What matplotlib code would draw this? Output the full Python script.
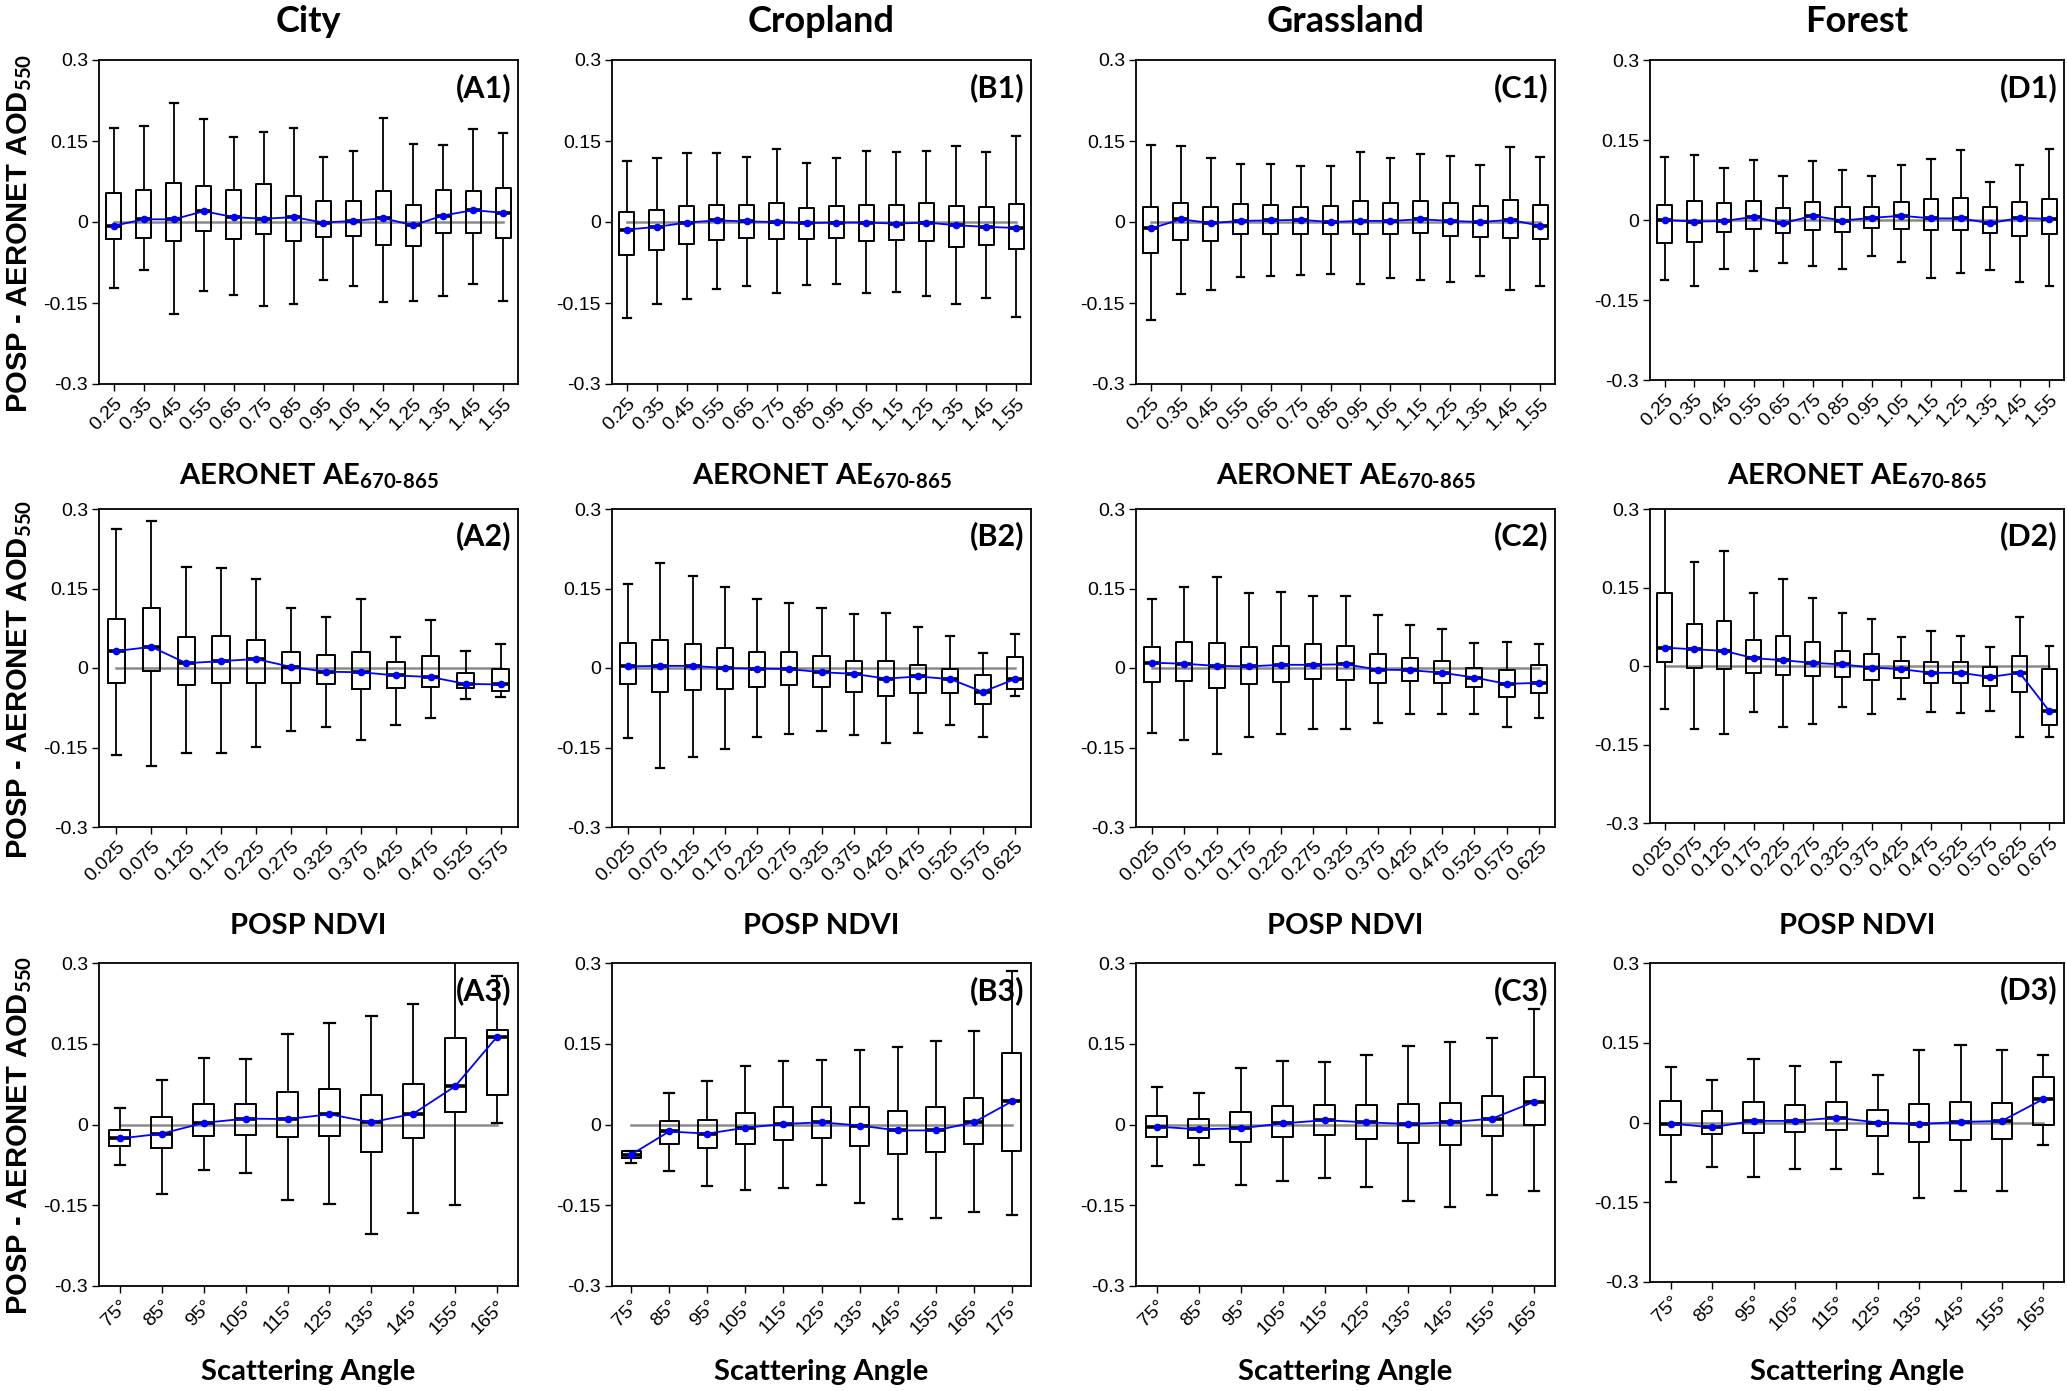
import matplotlib
matplotlib.use('Agg')
import matplotlib.pyplot as plt

plt.rcParams['mathtext.fontset'] = 'custom'
plt.rcParams['mathtext.rm'] = 'Lato:bold'
plt.rcParams['mathtext.bf'] = 'Lato:bold'
plt.rcParams['mathtext.it'] = 'Lato:bold'
plt.rcParams['mathtext.sf'] = 'Lato:bold'
plt.rcParams['font.family'] = ['Liberation Sans', 'DejaVu Sans']

# ---------------- data ----------------
columns = ['City', 'Cropland', 'Grassland', 'Forest']
row_xlabels = ['AERONET AE$_{\\text{670-865}}$', 'POSP NDVI', 'Scattering Angle']

ae_labels = ['0.25', '0.35', '0.45', '0.55', '0.65', '0.75', '0.85', '0.95',
             '1.05', '1.15', '1.25', '1.35', '1.45', '1.55']
ndvi_labels_A = ['0.025', '0.075', '0.125', '0.175', '0.225', '0.275', '0.325',
                 '0.375', '0.425', '0.475', '0.525', '0.575']
ndvi_labels_BC = ndvi_labels_A + ['0.625']
ndvi_labels_D = ndvi_labels_BC + ['0.675']
angle_labels = ['75°', '85°', '95°', '105°', '115°', '125°', '135°', '145°', '155°', '165°']
angle_labels_B = angle_labels + ['175°']

yticks = [-0.3, -0.15, 0, 0.15, 0.3]
ytick_labels = ['-0.3', '-0.15', '0', '0.15', '0.3']

# Row 1: AE bins
A1_hi = [0.175, 0.177, 0.221, 0.190, 0.157, 0.167, 0.174, 0.121, 0.132, 0.193, 0.144, 0.142, 0.172, 0.165]
A1_q3 = [0.053, 0.060, 0.072, 0.067, 0.059, 0.070, 0.049, 0.038, 0.038, 0.057, 0.032, 0.060, 0.057, 0.063]
A1_mid = [-0.007, 0.005, 0.005, 0.020, 0.009, 0.006, 0.009, -0.001, 0.002, 0.007, -0.006, 0.012, 0.022, 0.017]
A1_q1 = [-0.031, -0.030, -0.036, -0.016, -0.031, -0.022, -0.036, -0.027, -0.026, -0.043, -0.044, -0.020, -0.020, -0.030]
A1_lo = [-0.122, -0.088, -0.171, -0.127, -0.135, -0.156, -0.151, -0.107, -0.119, -0.149, -0.146, -0.137, -0.115, -0.146]

B1_hi = [0.113, 0.119, 0.127, 0.127, 0.121, 0.135, 0.109, 0.119, 0.131, 0.130, 0.131, 0.140, 0.129, 0.160]
B1_q3 = [0.019, 0.022, 0.030, 0.031, 0.031, 0.036, 0.026, 0.030, 0.031, 0.031, 0.035, 0.030, 0.027, 0.034]
B1_mid = [-0.014, -0.009, -0.001, 0.003, 0.001, 0.000, -0.002, -0.001, -0.001, -0.003, -0.001, -0.006, -0.009, -0.011]
B1_q1 = [-0.061, -0.051, -0.040, -0.033, -0.030, -0.032, -0.031, -0.030, -0.036, -0.034, -0.035, -0.046, -0.042, -0.050]
B1_lo = [-0.178, -0.152, -0.143, -0.124, -0.119, -0.132, -0.116, -0.114, -0.131, -0.130, -0.137, -0.152, -0.141, -0.175]

C1_hi = [0.142, 0.140, 0.119, 0.107, 0.107, 0.104, 0.104, 0.130, 0.119, 0.126, 0.123, 0.106, 0.138, 0.121]
C1_q3 = [0.027, 0.036, 0.027, 0.033, 0.031, 0.028, 0.030, 0.038, 0.035, 0.039, 0.035, 0.029, 0.041, 0.031]
C1_mid = [-0.012, 0.005, -0.002, 0.002, 0.003, 0.004, 0.000, 0.002, 0.002, 0.005, 0.002, 0.000, 0.004, -0.007]
C1_q1 = [-0.058, -0.033, -0.036, -0.022, -0.022, -0.023, -0.022, -0.023, -0.022, -0.020, -0.025, -0.027, -0.030, -0.031]
C1_lo = [-0.181, -0.134, -0.126, -0.102, -0.100, -0.099, -0.096, -0.115, -0.103, -0.107, -0.112, -0.100, -0.125, -0.119]

D1_hi = [0.119, 0.121, 0.098, 0.113, 0.083, 0.111, 0.094, 0.083, 0.104, 0.114, 0.131, 0.072, 0.103, 0.133]
D1_q3 = [0.029, 0.035, 0.031, 0.036, 0.023, 0.034, 0.024, 0.025, 0.033, 0.040, 0.042, 0.024, 0.033, 0.039]
D1_mid = [0.000, -0.003, -0.002, 0.006, -0.006, 0.008, -0.001, 0.004, 0.008, 0.003, 0.003, -0.006, 0.004, 0.002]
D1_q1 = [-0.043, -0.042, -0.023, -0.017, -0.024, -0.019, -0.023, -0.015, -0.017, -0.019, -0.019, -0.024, -0.030, -0.026]
D1_lo = [-0.113, -0.124, -0.091, -0.095, -0.081, -0.086, -0.091, -0.067, -0.078, -0.108, -0.099, -0.094, -0.116, -0.123]

# Row 2: NDVI bins
A2_hi = [0.262, 0.278, 0.190, 0.189, 0.167, 0.114, 0.096, 0.131, 0.059, 0.091, 0.033, 0.045]
A2_q3 = [0.092, 0.114, 0.058, 0.060, 0.053, 0.031, 0.024, 0.031, 0.011, 0.023, -0.009, -0.001]
A2_mid = [0.032, 0.040, 0.009, 0.013, 0.017, 0.002, -0.007, -0.008, -0.014, -0.017, -0.030, -0.031]
A2_q1 = [-0.028, -0.006, -0.032, -0.028, -0.029, -0.029, -0.030, -0.039, -0.038, -0.036, -0.038, -0.043]
A2_lo = [-0.164, -0.184, -0.161, -0.160, -0.149, -0.118, -0.111, -0.136, -0.107, -0.095, -0.059, -0.055]

B2_hi = [0.158, 0.199, 0.173, 0.152, 0.130, 0.122, 0.114, 0.101, 0.103, 0.078, 0.060, 0.028, 0.064]
B2_q3 = [0.047, 0.053, 0.046, 0.037, 0.031, 0.030, 0.023, 0.014, 0.013, 0.006, -0.001, -0.014, 0.020]
B2_mid = [0.003, 0.004, 0.004, 0.000, -0.001, -0.002, -0.008, -0.011, -0.020, -0.016, -0.021, -0.045, -0.021]
B2_q1 = [-0.030, -0.045, -0.042, -0.039, -0.035, -0.033, -0.036, -0.045, -0.052, -0.048, -0.048, -0.068, -0.040]
B2_lo = [-0.133, -0.189, -0.167, -0.153, -0.131, -0.125, -0.119, -0.126, -0.142, -0.123, -0.108, -0.131, -0.052]

C2_hi = [0.131, 0.152, 0.172, 0.142, 0.143, 0.136, 0.135, 0.100, 0.081, 0.074, 0.047, 0.050, 0.045]
C2_q3 = [0.039, 0.050, 0.047, 0.040, 0.042, 0.045, 0.042, 0.026, 0.018, 0.014, 0.000, -0.004, 0.006]
C2_mid = [0.010, 0.008, 0.004, 0.003, 0.006, 0.006, 0.007, -0.003, -0.004, -0.009, -0.018, -0.030, -0.028]
C2_q1 = [-0.026, -0.025, -0.038, -0.030, -0.026, -0.020, -0.022, -0.028, -0.025, -0.028, -0.036, -0.054, -0.048]
C2_lo = [-0.123, -0.135, -0.163, -0.131, -0.125, -0.116, -0.116, -0.104, -0.086, -0.087, -0.086, -0.111, -0.095]

D2_hi = [0.320, 0.199, 0.219, 0.140, 0.166, 0.129, 0.101, 0.090, 0.056, 0.067, 0.057, 0.036, 0.094, 0.038]
D2_q3 = [0.140, 0.081, 0.086, 0.049, 0.057, 0.046, 0.029, 0.022, 0.009, 0.008, 0.007, -0.001, 0.020, -0.005]
D2_mid = [0.035, 0.032, 0.029, 0.015, 0.011, 0.006, 0.003, -0.003, -0.006, -0.013, -0.013, -0.021, -0.013, -0.086]
D2_q1 = [0.008, -0.003, -0.006, -0.013, -0.017, -0.020, -0.021, -0.026, -0.023, -0.033, -0.032, -0.038, -0.049, -0.112]
D2_lo = [-0.083, -0.120, -0.130, -0.087, -0.116, -0.110, -0.078, -0.091, -0.064, -0.087, -0.090, -0.086, -0.135, -0.135]

# Row 3: scattering-angle bins
A3_hi = [0.030, 0.082, 0.124, 0.122, 0.168, 0.188, 0.201, 0.223, 0.330, 0.276]
A3_q3 = [-0.011, 0.014, 0.038, 0.039, 0.061, 0.066, 0.054, 0.075, 0.160, 0.175]
A3_mid = [-0.026, -0.017, 0.003, 0.011, 0.010, 0.019, 0.004, 0.020, 0.071, 0.163]
A3_q1 = [-0.040, -0.044, -0.022, -0.019, -0.024, -0.021, -0.051, -0.025, 0.024, 0.055]
A3_lo = [-0.076, -0.129, -0.085, -0.091, -0.141, -0.148, -0.204, -0.164, -0.149, 0.002]

B3_hi = [-0.049, 0.059, 0.080, 0.109, 0.118, 0.119, 0.139, 0.144, 0.156, 0.174, 0.285]
B3_q3 = [-0.050, 0.006, 0.008, 0.022, 0.032, 0.032, 0.032, 0.026, 0.032, 0.049, 0.133]
B3_mid = [-0.056, -0.013, -0.017, -0.006, 0.001, 0.004, -0.002, -0.011, -0.011, 0.004, 0.043]
B3_q1 = [-0.063, -0.036, -0.043, -0.037, -0.028, -0.026, -0.040, -0.055, -0.052, -0.037, -0.050]
B3_lo = [-0.072, -0.087, -0.114, -0.121, -0.118, -0.113, -0.146, -0.176, -0.174, -0.163, -0.168]

C3_hi = [0.069, 0.059, 0.105, 0.118, 0.117, 0.129, 0.145, 0.154, 0.160, 0.214]
C3_q3 = [0.016, 0.010, 0.023, 0.034, 0.036, 0.036, 0.038, 0.040, 0.053, 0.089]
C3_mid = [-0.004, -0.009, -0.007, 0.002, 0.008, 0.004, 0.001, 0.004, 0.011, 0.042]
C3_q1 = [-0.024, -0.025, -0.033, -0.023, -0.019, -0.027, -0.035, -0.038, -0.022, 0.000]
C3_lo = [-0.077, -0.076, -0.112, -0.105, -0.100, -0.117, -0.142, -0.154, -0.131, -0.124]

D3_hi = [0.105, 0.080, 0.119, 0.106, 0.114, 0.090, 0.136, 0.146, 0.136, 0.127]
D3_q3 = [0.041, 0.021, 0.038, 0.033, 0.038, 0.023, 0.035, 0.039, 0.037, 0.085]
D3_mid = [-0.002, -0.009, 0.003, 0.003, 0.009, 0.000, -0.003, 0.001, 0.003, 0.044]
D3_q1 = [-0.023, -0.021, -0.019, -0.017, -0.014, -0.026, -0.037, -0.033, -0.031, -0.005]
D3_lo = [-0.111, -0.083, -0.102, -0.087, -0.087, -0.097, -0.142, -0.129, -0.128, -0.042]

panels = [
    [('A1', A1_lo, A1_q1, A1_mid, A1_q3, A1_hi, ae_labels),
     ('B1', B1_lo, B1_q1, B1_mid, B1_q3, B1_hi, ae_labels),
     ('C1', C1_lo, C1_q1, C1_mid, C1_q3, C1_hi, ae_labels),
     ('D1', D1_lo, D1_q1, D1_mid, D1_q3, D1_hi, ae_labels)],
    [('A2', A2_lo, A2_q1, A2_mid, A2_q3, A2_hi, ndvi_labels_A),
     ('B2', B2_lo, B2_q1, B2_mid, B2_q3, B2_hi, ndvi_labels_BC),
     ('C2', C2_lo, C2_q1, C2_mid, C2_q3, C2_hi, ndvi_labels_BC),
     ('D2', D2_lo, D2_q1, D2_mid, D2_q3, D2_hi, ndvi_labels_D)],
    [('A3', A3_lo, A3_q1, A3_mid, A3_q3, A3_hi, angle_labels),
     ('B3', B3_lo, B3_q1, B3_mid, B3_q3, B3_hi, angle_labels_B),
     ('C3', C3_lo, C3_q1, C3_mid, C3_q3, C3_hi, angle_labels),
     ('D3', D3_lo, D3_q1, D3_mid, D3_q3, D3_hi, angle_labels)],
]

# ---------------- layout (pixels) ----------------
W, H = 2067, 1391
col_left = [99, 612, 1136, 1650]
col_right = [518, 1031, 1555, 2064]
row_top = [60, 509, 963]
row_bottom = [384, 827, 1286]

fig = plt.figure(figsize=(W / 100, H / 100), dpi=100)

for r in range(3):
    for c in range(4):
        name, lo, q1, mid, q3, hi, labels = panels[r][c]
        bot = row_bottom[r] - (4 if c == 3 else 0)
        ax = fig.add_axes([col_left[c] / W, 1 - bot / H,
                           (col_right[c] - col_left[c]) / W, (bot - row_top[r]) / H])
        n = len(mid)
        pos = list(range(1, n + 1))
        stats = [dict(whislo=lo[i], q1=q1[i], med=mid[i], q3=q3[i], whishi=hi[i], fliers=[])
                 for i in range(n)]
        ax.plot([pos[0], pos[-1]], [0, 0], color='#8a8a8a', lw=1.8, zorder=1)
        ax.bxp(stats, positions=pos, widths=0.5, capwidths=0.25, showfliers=False,
               manage_ticks=False,
               boxprops=dict(color='black', lw=1.4),
               whiskerprops=dict(color='black', lw=1.3),
               capprops=dict(color='black', lw=1.6),
               medianprops=dict(color='black', lw=2.6))
        ax.plot(pos, mid, color='#0000ff', lw=1.3, marker='o', ms=4.5, zorder=5)
        ax.set_xlim(0.5, n + 0.5)
        ax.set_ylim(-0.3, 0.3)
        ax.set_yticks(yticks)
        ax.set_yticklabels(ytick_labels, fontsize=14)
        ax.set_xticks(pos)
        ax.set_xticklabels(labels, fontsize=14, rotation=45, ha='right', va='top',
                           rotation_mode='anchor')
        ax.tick_params(direction='out', length=5, width=1, pad=3)
        for sp in ax.spines.values():
            sp.set_linewidth(1.3)
        ax.text(0.985, 0.915, '(' + name + ')', transform=ax.transAxes, ha='right',
                va='center', fontsize=22, family='Lato', weight='bold', zorder=0)

        cx = (col_left[c] + col_right[c]) / 2 / W
        if r == 0:
            fig.text(cx, 1 - 21 / H, columns[c], fontsize=26, family='Lato',
                     weight='bold', ha='center', va='center')
        label_y = [476, 926, 1372][r]
        fig.text(cx, 1 - label_y / H, row_xlabels[r], fontsize=21, family='Lato',
                 weight='bold', ha='center', va='center')
    cy = ((row_top[r] + row_bottom[r]) / 2 + 11) / H
    fig.text(20 / W, 1 - cy, 'POSP - AERONET AOD$_{\\text{550}}$', rotation=90,
             fontsize=21, family='Liberation Sans', weight='bold', ha='center', va='center')

fig.savefig('out.png', dpi=100)
